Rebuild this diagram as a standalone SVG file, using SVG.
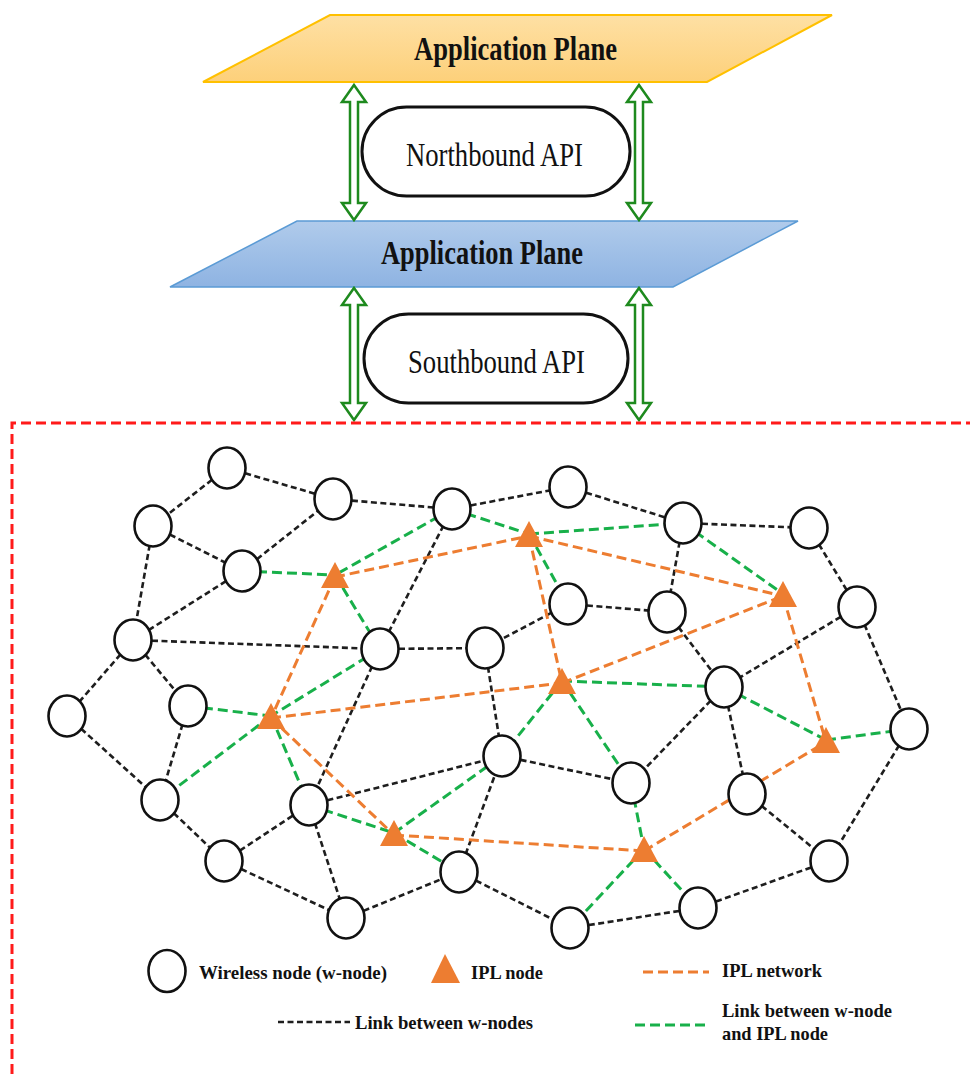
<svg xmlns="http://www.w3.org/2000/svg" width="970" height="1074" viewBox="0 0 970 1074">
  <defs>
    <linearGradient id="gOrange" x1="0" y1="0" x2="0" y2="1">
      <stop offset="0" stop-color="#fee0a4"/>
      <stop offset="1" stop-color="#fdd07a"/>
    </linearGradient>
    <linearGradient id="gBlue" x1="0" y1="0" x2="0" y2="1">
      <stop offset="0" stop-color="#b0cbeb"/>
      <stop offset="1" stop-color="#8eb3e2"/>
    </linearGradient>
  </defs>
  <style>
    .title { font-family: "Liberation Serif", "Times New Roman", serif; font-weight: bold; font-size: 34px; fill: #111; }
    .api { font-family: "Liberation Serif", "Times New Roman", serif; font-size: 33px; fill: #111; }
    .leg { font-family: "Liberation Serif", "Times New Roman", serif; font-weight: bold; font-size: 19.5px; fill: #111; }
    .stadium { fill: #fff; stroke: #111; stroke-width: 3; }
    .dbl { fill: #fff; stroke: #1e8a1e; stroke-width: 2.5; stroke-linejoin: miter; }
    .wn { fill: #fff; stroke: #111; stroke-width: 2.6; }
    .ipl { fill: #ed7d31; }
    .blk { stroke: #1e1e1e; stroke-width: 2.6; stroke-dasharray: 6 3.5; fill: none; }
    .grn { stroke: #18b04a; stroke-width: 3; stroke-dasharray: 10 5; fill: none; }
    .org { stroke: #ed7d31; stroke-width: 3; stroke-dasharray: 10 5; fill: none; }
    .frame { stroke: #ff1a1a; stroke-width: 3; stroke-dasharray: 10 5; fill: none; }
  </style>

  <rect width="970" height="1074" fill="#fff"/>

  <!-- control layers -->
  <g id="app-plane">
    <polygon points="330,15 832,15 707,82 203,82" fill="url(#gOrange)" stroke="#ffc000" stroke-width="2"/>
    <text class="title" x="414" y="60" textLength="203" lengthAdjust="spacingAndGlyphs">Application Plane</text>
  </g>
  <g id="control-plane">
    <polygon points="297,221 798,221 673,287 170,287" fill="url(#gBlue)" stroke="#5b9bd5" stroke-width="1.5"/>
    <text class="title" x="381" y="264" textLength="202" lengthAdjust="spacingAndGlyphs">Application Plane</text>
  </g>
  <g id="northbound">
    <rect class="stadium" x="362" y="107" width="268" height="89" rx="44.5"/>
    <text class="api" x="406" y="166" textLength="177" lengthAdjust="spacingAndGlyphs">Northbound API</text>
  </g>
  <g id="southbound">
    <rect class="stadium" x="364" y="314" width="264" height="89" rx="44.5"/>
    <text class="api" x="408" y="373" textLength="177" lengthAdjust="spacingAndGlyphs">Southbound API</text>
  </g>

  <!-- hollow double-headed arrows between layers -->
  <g id="layer-arrows">
    <polygon class="dbl" points="354,85 366,102 358,102 358,203 366,203 354,220 342,203 350,203 350,102 342,102"/>
    <polygon class="dbl" points="639,85 651,102 643,102 643,203 651,203 639,220 627,203 635,203 635,102 627,102"/>
    <polygon class="dbl" points="354,288 366,305 358,305 358,403 366,403 354,420 342,403 350,403 350,305 342,305"/>
    <polygon class="dbl" points="639,288 651,305 643,305 643,403 651,403 639,420 627,403 635,403 635,305 627,305"/>
  </g>

  <!-- data plane boundary -->
  <path class="frame" d="M12,1074 V423 H970"/>

  <!-- links -->
  <g id="connectors">
    <g id="wnode-links">
      <line class="blk" x1="227" y1="468" x2="153" y2="526"/>
      <line class="blk" x1="227" y1="468" x2="333" y2="499"/>
      <line class="blk" x1="333" y1="499" x2="452" y2="509"/>
      <line class="blk" x1="452" y1="509" x2="568" y2="487"/>
      <line class="blk" x1="153" y1="526" x2="242" y2="571"/>
      <line class="blk" x1="242" y1="571" x2="333" y2="499"/>
      <line class="blk" x1="153" y1="526" x2="133" y2="640"/>
      <line class="blk" x1="242" y1="571" x2="133" y2="640"/>
      <line class="blk" x1="133" y1="640" x2="380" y2="649"/>
      <line class="blk" x1="380" y1="649" x2="452" y2="509"/>
      <line class="blk" x1="380" y1="649" x2="485" y2="648"/>
      <line class="blk" x1="133" y1="640" x2="67" y2="716"/>
      <line class="blk" x1="133" y1="640" x2="188" y2="706"/>
      <line class="blk" x1="380" y1="649" x2="309" y2="805"/>
      <line class="blk" x1="485" y1="648" x2="502" y2="756"/>
      <line class="blk" x1="568" y1="487" x2="683" y2="523"/>
      <line class="blk" x1="683" y1="523" x2="809" y2="528"/>
      <line class="blk" x1="683" y1="523" x2="667" y2="612"/>
      <line class="blk" x1="568" y1="604" x2="667" y2="612"/>
      <line class="blk" x1="568" y1="604" x2="485" y2="648"/>
      <line class="blk" x1="809" y1="528" x2="857" y2="607"/>
      <line class="blk" x1="667" y1="612" x2="724" y2="687"/>
      <line class="blk" x1="857" y1="607" x2="724" y2="687"/>
      <line class="blk" x1="857" y1="607" x2="909" y2="729"/>
      <line class="blk" x1="724" y1="687" x2="631" y2="783"/>
      <line class="blk" x1="724" y1="687" x2="747" y2="794"/>
      <line class="blk" x1="67" y1="716" x2="160" y2="800"/>
      <line class="blk" x1="188" y1="706" x2="160" y2="800"/>
      <line class="blk" x1="160" y1="800" x2="224" y2="861"/>
      <line class="blk" x1="224" y1="861" x2="309" y2="805"/>
      <line class="blk" x1="224" y1="861" x2="346" y2="918"/>
      <line class="blk" x1="309" y1="805" x2="346" y2="918"/>
      <line class="blk" x1="346" y1="918" x2="459" y2="872"/>
      <line class="blk" x1="309" y1="805" x2="502" y2="756"/>
      <line class="blk" x1="459" y1="872" x2="502" y2="756"/>
      <line class="blk" x1="459" y1="872" x2="570" y2="928"/>
      <line class="blk" x1="502" y1="756" x2="631" y2="783"/>
      <line class="blk" x1="747" y1="794" x2="829" y2="861"/>
      <line class="blk" x1="909" y1="729" x2="829" y2="861"/>
      <line class="blk" x1="829" y1="861" x2="698" y2="908"/>
      <line class="blk" x1="698" y1="908" x2="570" y2="928"/>
    </g>
    <g id="access-links">
      <line class="grn" x1="242" y1="571" x2="335" y2="575"/>
      <line class="grn" x1="452" y1="509" x2="335" y2="575"/>
      <line class="grn" x1="335" y1="575" x2="380" y2="649"/>
      <line class="grn" x1="452" y1="509" x2="529" y2="534"/>
      <line class="grn" x1="529" y1="534" x2="683" y2="523"/>
      <line class="grn" x1="529" y1="534" x2="568" y2="604"/>
      <line class="grn" x1="683" y1="523" x2="783" y2="594"/>
      <line class="grn" x1="562" y1="681" x2="724" y2="687"/>
      <line class="grn" x1="562" y1="681" x2="502" y2="756"/>
      <line class="grn" x1="562" y1="681" x2="631" y2="783"/>
      <line class="grn" x1="724" y1="687" x2="826" y2="740"/>
      <line class="grn" x1="826" y1="740" x2="909" y2="729"/>
      <line class="grn" x1="188" y1="706" x2="271" y2="716"/>
      <line class="grn" x1="380" y1="649" x2="271" y2="716"/>
      <line class="grn" x1="271" y1="716" x2="160" y2="800"/>
      <line class="grn" x1="271" y1="716" x2="309" y2="805"/>
      <line class="grn" x1="309" y1="805" x2="394" y2="833"/>
      <line class="grn" x1="394" y1="833" x2="502" y2="756"/>
      <line class="grn" x1="394" y1="833" x2="459" y2="872"/>
      <line class="grn" x1="631" y1="783" x2="644" y2="849"/>
      <line class="grn" x1="644" y1="849" x2="570" y2="928"/>
      <line class="grn" x1="644" y1="849" x2="698" y2="908"/>
    </g>
    <g id="ipl-links">
      <line class="org" x1="335" y1="577" x2="529" y2="536"/>
      <line class="org" x1="335" y1="577" x2="271" y2="718"/>
      <line class="org" x1="271" y1="718" x2="562" y2="683"/>
      <line class="org" x1="271" y1="718" x2="394" y2="835"/>
      <line class="org" x1="529" y1="536" x2="783" y2="596"/>
      <line class="org" x1="529" y1="536" x2="562" y2="683"/>
      <line class="org" x1="562" y1="683" x2="783" y2="596"/>
      <line class="org" x1="783" y1="596" x2="826" y2="742"/>
      <line class="org" x1="394" y1="835" x2="644" y2="851"/>
      <line class="org" x1="644" y1="851" x2="826" y2="742"/>
    </g>
  </g>

  <!-- wireless nodes -->
  <g id="w-nodes">
    <g id="wA"><ellipse class="wn" cx="227" cy="468" rx="18.5" ry="20.5"/></g>
    <g id="wB"><ellipse class="wn" cx="153" cy="526" rx="18.5" ry="20.5"/></g>
    <g id="wC"><ellipse class="wn" cx="333" cy="499" rx="18.5" ry="20.5"/></g>
    <g id="wD"><ellipse class="wn" cx="452" cy="509" rx="18.5" ry="20.5"/></g>
    <g id="wE"><ellipse class="wn" cx="242" cy="571" rx="18.5" ry="20.5"/></g>
    <g id="wF"><ellipse class="wn" cx="133" cy="640" rx="18.5" ry="20.5"/></g>
    <g id="wG"><ellipse class="wn" cx="380" cy="649" rx="18.5" ry="20.5"/></g>
    <g id="wH"><ellipse class="wn" cx="485" cy="648" rx="18.5" ry="20.5"/></g>
    <g id="wI"><ellipse class="wn" cx="67" cy="716" rx="18.5" ry="20.5"/></g>
    <g id="wJ"><ellipse class="wn" cx="188" cy="706" rx="18.5" ry="20.5"/></g>
    <g id="wK"><ellipse class="wn" cx="568" cy="487" rx="18.5" ry="20.5"/></g>
    <g id="wL"><ellipse class="wn" cx="683" cy="523" rx="18.5" ry="20.5"/></g>
    <g id="wM"><ellipse class="wn" cx="809" cy="528" rx="18.5" ry="20.5"/></g>
    <g id="wN"><ellipse class="wn" cx="568" cy="604" rx="18.5" ry="20.5"/></g>
    <g id="wO"><ellipse class="wn" cx="667" cy="612" rx="18.5" ry="20.5"/></g>
    <g id="wP"><ellipse class="wn" cx="857" cy="607" rx="18.5" ry="20.5"/></g>
    <g id="wQ"><ellipse class="wn" cx="724" cy="687" rx="18.5" ry="20.5"/></g>
    <g id="wR"><ellipse class="wn" cx="909" cy="729" rx="18.5" ry="20.5"/></g>
    <g id="wS"><ellipse class="wn" cx="160" cy="800" rx="18.5" ry="20.5"/></g>
    <g id="wU"><ellipse class="wn" cx="309" cy="805" rx="18.5" ry="20.5"/></g>
    <g id="wV"><ellipse class="wn" cx="224" cy="861" rx="18.5" ry="20.5"/></g>
    <g id="wW"><ellipse class="wn" cx="346" cy="918" rx="18.5" ry="20.5"/></g>
    <g id="wX"><ellipse class="wn" cx="459" cy="872" rx="18.5" ry="20.5"/></g>
    <g id="wY"><ellipse class="wn" cx="502" cy="756" rx="18.5" ry="20.5"/></g>
    <g id="wZ"><ellipse class="wn" cx="631" cy="783" rx="18.5" ry="20.5"/></g>
    <g id="wAA"><ellipse class="wn" cx="747" cy="794" rx="18.5" ry="20.5"/></g>
    <g id="wAC"><ellipse class="wn" cx="829" cy="861" rx="18.5" ry="20.5"/></g>
    <g id="wAD"><ellipse class="wn" cx="698" cy="908" rx="18.5" ry="20.5"/></g>
    <g id="wAE"><ellipse class="wn" cx="570" cy="928" rx="18.5" ry="20.5"/></g>
  </g>

  <!-- IPL nodes -->
  <g id="ipl-nodes">
    <g id="ipl1"><polygon class="ipl" points="335,562 349,588 321,588"/></g>
    <g id="ipl2"><polygon class="ipl" points="271,703 285,729 257,729"/></g>
    <g id="ipl3"><polygon class="ipl" points="529,521 543,547 515,547"/></g>
    <g id="ipl4"><polygon class="ipl" points="783,581 797,607 769,607"/></g>
    <g id="ipl5"><polygon class="ipl" points="562,668 576,694 548,694"/></g>
    <g id="ipl6"><polygon class="ipl" points="826,727 840,753 812,753"/></g>
    <g id="ipl7"><polygon class="ipl" points="394,820 408,846 380,846"/></g>
    <g id="ipl8"><polygon class="ipl" points="644,836 658,862 630,862"/></g>
  </g>

  <!-- legend -->
  <g id="legend">
    <ellipse class="wn" cx="167" cy="971" rx="18.5" ry="21"/>
    <text class="leg" x="199" y="979" textLength="188" lengthAdjust="spacingAndGlyphs">Wireless node (w-node)</text>
    <polygon class="ipl" points="445,954 460,983 431,983"/>
    <text class="leg" x="471" y="979" textLength="72" lengthAdjust="spacingAndGlyphs">IPL node</text>
    <line class="org" x1="643" y1="972" x2="709" y2="972" stroke-dasharray="10 4"/>
    <text class="leg" x="722" y="977" textLength="100" lengthAdjust="spacingAndGlyphs">IPL network</text>
    <line class="blk" x1="278" y1="1022" x2="350" y2="1022" stroke-dasharray="5.5 2.5"/>
    <text class="leg" x="355" y="1029" textLength="178" lengthAdjust="spacingAndGlyphs">Link between w-nodes</text>
    <line class="grn" x1="635" y1="1025" x2="708" y2="1025" stroke-dasharray="10 4"/>
    <text class="leg" x="722" y="1017" textLength="170" lengthAdjust="spacingAndGlyphs">Link between w-node</text>
    <text class="leg" x="722" y="1040" textLength="106" lengthAdjust="spacingAndGlyphs">and IPL node</text>
  </g>
</svg>
